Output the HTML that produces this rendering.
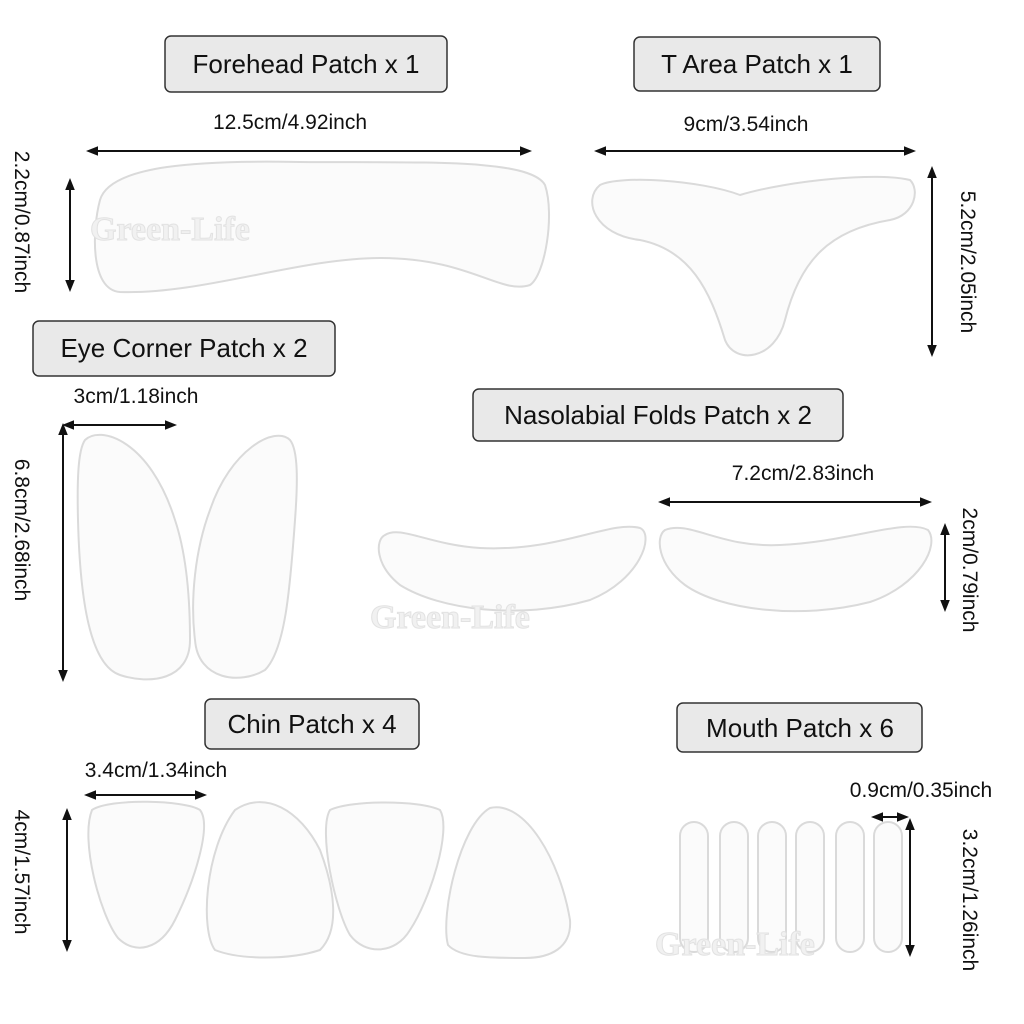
<!DOCTYPE html>
<html><head><meta charset="utf-8"><style>
body{margin:0;background:#fff}
svg{display:block}
text{font-family:"Liberation Sans",sans-serif;fill:#111}
.lb{fill:#e9e9e9;stroke:#333;stroke-width:1.5}
.lt{font-size:26px;text-anchor:middle}
.dt{font-size:21px;text-anchor:middle}
.ar{stroke:#111;stroke-width:2;fill:none;marker-start:url(#a);marker-end:url(#a)}
.p{fill:#fbfbfb;stroke:#dadada;stroke-width:2}
.wm{font-size:34px;font-weight:bold;fill:#f1f1f1;stroke:#e2e2e2;stroke-width:1;font-family:"Liberation Serif",serif}
</style></head><body>
<svg width="1024" height="1024" viewBox="0 0 1024 1024">
<defs><marker id="a" viewBox="0 0 10 10" refX="5" refY="5" markerWidth="6" markerHeight="6" orient="auto-start-reverse"><path d="M0,1 L10,5 L0,9 z" fill="#111"/></marker></defs>

<rect class="lb" x="165" y="36" width="282" height="56" rx="6"/><text class="lt" x="306" y="73">Forehead Patch x 1</text>
<rect class="lb" x="634" y="37" width="246" height="54" rx="6"/><text class="lt" x="757" y="73">T Area Patch x 1</text>
<rect class="lb" x="33" y="321" width="302" height="55" rx="6"/><text class="lt" x="184" y="357">Eye Corner Patch x 2</text>
<rect class="lb" x="473" y="389" width="370" height="52" rx="6"/><text class="lt" x="658" y="424">Nasolabial Folds Patch x 2</text>
<rect class="lb" x="205" y="699" width="214" height="50" rx="6"/><text class="lt" x="312" y="733">Chin Patch x 4</text>
<rect class="lb" x="677" y="703" width="245" height="49" rx="6"/><text class="lt" x="800" y="737">Mouth Patch x 6</text>

<path class="p" d="M100,200 C110,165 200,160 300,162 C420,163 530,158 545,185 C555,215 545,275 530,285 C500,295 470,258 380,258 C300,258 200,295 120,292 C90,290 92,230 100,200z"/>
<path class="p" d="M600,185 C620,175 700,180 740,195 C790,180 880,172 910,180 C920,190 915,215 890,220 C830,230 800,260 785,320 C775,360 735,365 725,340 C710,290 690,250 640,240 C595,235 582,200 600,185z"/>
<path class="p" d="M85,440 C100,425 150,440 175,520 C185,550 190,590 190,640 C190,680 150,685 120,675 C90,665 80,600 78,520 C77,480 78,450 85,440z"/>
<path class="p" d="M290,440 C275,425 230,450 210,510 C195,550 190,600 195,640 C198,680 240,685 265,670 C285,650 290,590 295,520 C298,480 298,450 290,440z"/>
<path class="p" d="M385,535 C400,525 430,545 480,548 C560,552 610,520 640,528 C655,535 640,580 590,600 C520,620 440,610 400,585 C375,565 375,540 385,535z"/>
<path class="p" d="M665,530 C690,520 720,548 780,545 C850,542 905,518 928,530 C940,545 920,585 870,602 C800,620 720,610 685,585 C658,565 655,537 665,530z"/>
<path class="p" d="M92,810 C110,798 185,800 200,810 C212,825 195,880 175,920 C160,950 135,955 118,938 C100,915 80,840 92,810z"/>
<path class="p" d="M235,810 C265,790 300,810 320,850 C335,890 340,930 320,950 C290,960 240,960 215,950 C200,930 205,850 235,810z"/>
<path class="p" d="M330,810 C350,800 420,800 440,810 C452,830 430,900 410,930 C395,955 365,955 350,935 C335,910 318,830 330,810z"/>
<path class="p" d="M490,808 C525,800 560,860 570,920 C572,948 550,958 525,958 C490,958 460,958 448,945 C440,915 460,825 490,808z"/>
<g class="p">
<rect x="680" y="822" width="28" height="130" rx="14"/><rect x="720" y="822" width="28" height="130" rx="14"/>
<rect x="758" y="822" width="28" height="130" rx="14"/><rect x="796" y="822" width="28" height="130" rx="14"/>
<rect x="836" y="822" width="28" height="130" rx="14"/><rect x="874" y="822" width="28" height="130" rx="14"/>
</g>

<text class="wm" x="90" y="240">Green-Life</text>
<text class="wm" x="370" y="628">Green-Life</text>
<text class="wm" x="655" y="955">Green-Life</text>

<text class="dt" x="290" y="129">12.5cm/4.92inch</text><line class="ar" x1="92" y1="151" x2="526" y2="151"/>
<text class="dt" x="746" y="131">9cm/3.54inch</text><line class="ar" x1="600" y1="151" x2="910" y2="151"/>
<text class="dt" transform="translate(15,222) rotate(90)">2.2cm/0.87inch</text><line class="ar" x1="70" y1="184" x2="70" y2="286"/>
<text class="dt" transform="translate(961,262) rotate(90)">5.2cm/2.05inch</text><line class="ar" x1="932" y1="172" x2="932" y2="351"/>
<text class="dt" x="136" y="403">3cm/1.18inch</text><line class="ar" x1="68" y1="425" x2="171" y2="425"/>
<text class="dt" transform="translate(15,530) rotate(90)">6.8cm/2.68inch</text><line class="ar" x1="63" y1="429" x2="63" y2="676"/>
<text class="dt" x="803" y="480">7.2cm/2.83inch</text><line class="ar" x1="664" y1="502" x2="926" y2="502"/>
<text class="dt" transform="translate(963,570) rotate(90)">2cm/0.79inch</text><line class="ar" x1="945" y1="529" x2="945" y2="606"/>
<text class="dt" x="156" y="777">3.4cm/1.34inch</text><line class="ar" x1="90" y1="795" x2="201" y2="795"/>
<text class="dt" transform="translate(15,872) rotate(90)">4cm/1.57inch</text><line class="ar" x1="67" y1="814" x2="67" y2="946"/>
<text class="dt" x="921" y="797">0.9cm/0.35inch</text><line class="ar" x1="877" y1="817" x2="903" y2="817"/>
<text class="dt" transform="translate(963,900) rotate(90)">3.2cm/1.26inch</text><line class="ar" x1="910" y1="824" x2="910" y2="951"/>
</svg>
</body></html>
